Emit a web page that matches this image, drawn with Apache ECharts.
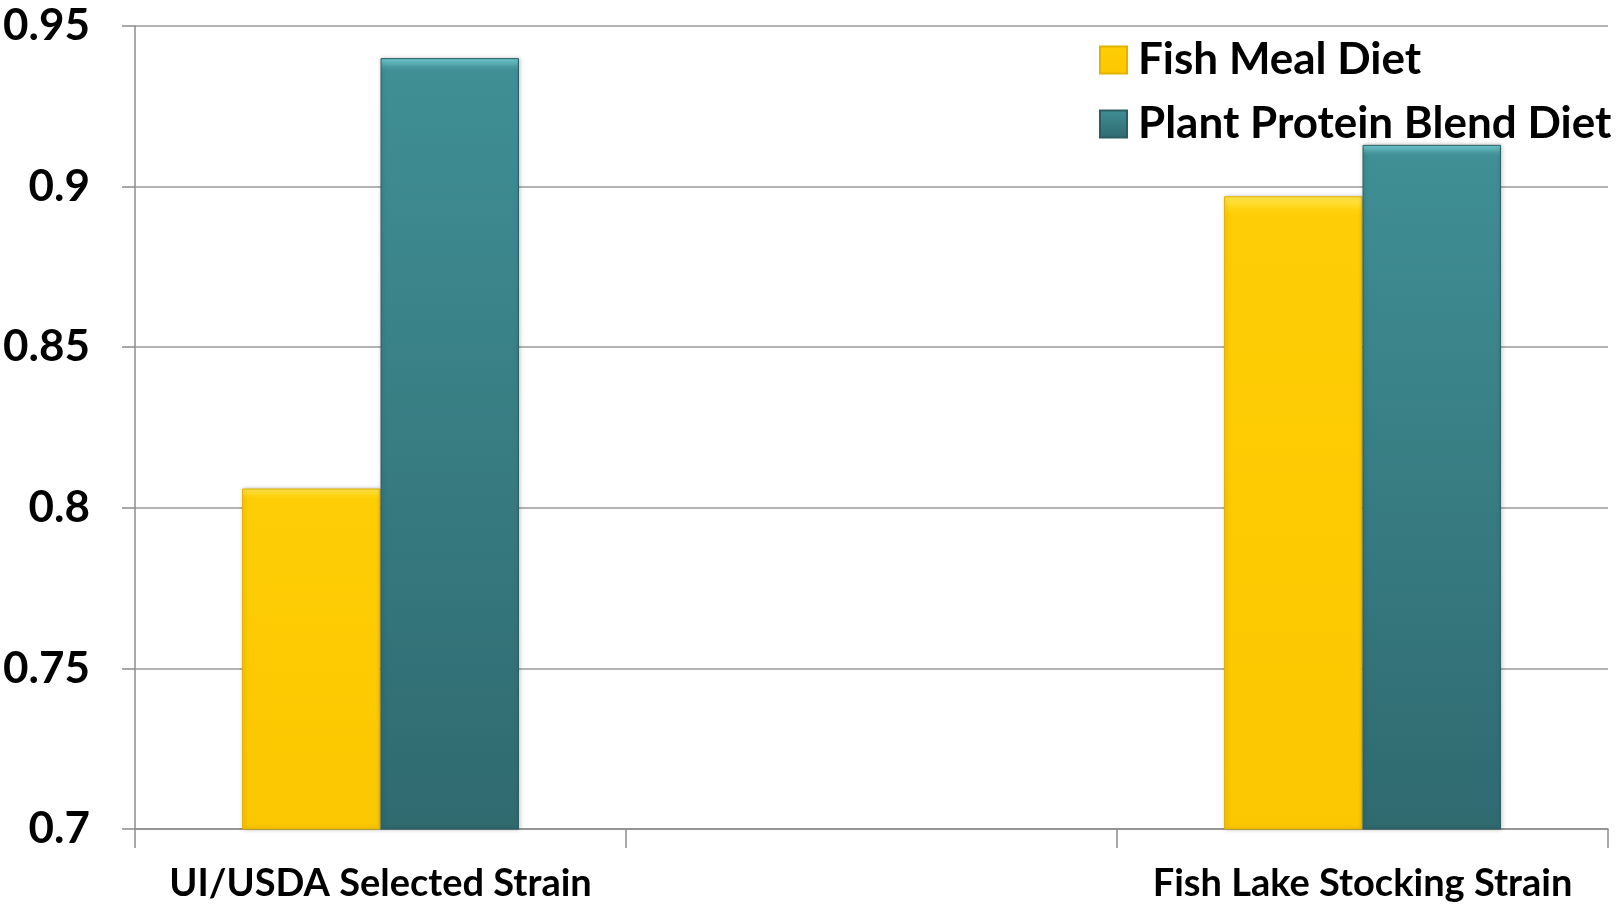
<!DOCTYPE html>
<html>
<head>
<meta charset="utf-8">
<script src="https://cdn.jsdelivr.net/npm/echarts@6/dist/echarts.min.js"></script>
<style>
  html, body { margin: 0; padding: 0; background: #ffffff; }
  #chart { width: 1622px; height: 909px; }
</style>
</head>
<body>
<div id="chart"></div>
<script>
// Strain categories (middle slot left empty, as in the layout of the original slide)
const categories = ['UI/USDA Selected Strain', '', 'Fish Lake Stocking Strain'];
const seriesNames = ['Fish Meal Diet', 'Plant Protein Blend Diet'];
const fishMealValues = [0.806, null, 0.897];
const plantProteinValues = [0.940, null, 0.913];
const yTicks = { min: 0.7, max: 0.95, interval: 0.05 };

const FONT = 'Lato, "Open Sans", sans-serif';

function vGradient(stops) {
  return { type: 'linear', x: 0, y: 0, x2: 0, y2: 1, colorStops: stops };
}

const yellowFill = vGradient([
  { offset: 0, color: '#ffe84f' },
  { offset: 0.022, color: '#ffd20f' },
  { offset: 0.03, color: '#ffcd05' },
  { offset: 1, color: '#fbc700' }
]);
const tealFill = vGradient([
  { offset: 0, color: '#72ced4' },
  { offset: 0.011, color: '#4a9ba1' },
  { offset: 0.016, color: '#3f8f95' },
  { offset: 1, color: '#2f6a6f' }
]);

const chart = echarts.init(document.getElementById('chart'), null, { renderer: 'canvas' });

chart.setOption({
  backgroundColor: '#ffffff',
  animation: false,
  grid: { left: 134, right: 14, top: 26, bottom: 80, containLabel: false },
  legend: {
    orient: 'vertical',
    left: 1094,
    top: 33,
    itemWidth: 27,
    itemHeight: 27,
    itemGap: 20,
    icon: 'rect',
    textStyle: {
      fontFamily: FONT, fontWeight: 'bold', fontSize: 44, lineHeight: 44,
      color: '#000', padding: [0, 0, 0, 6]
    },
    data: seriesNames
  },
  xAxis: {
    type: 'category',
    data: categories,
    boundaryGap: true,
    axisLine: { show: true, lineStyle: { color: '#8c8c8c', width: 1.5 } },
    axisTick: { show: true, interval: 0, length: 19, lineStyle: { color: '#8c8c8c', width: 1.5 } },
    axisLabel: { interval: 0, margin: 36, fontFamily: FONT, fontWeight: 'bold', fontSize: 38, color: '#000' },
    splitLine: { show: false }
  },
  yAxis: {
    type: 'value',
    min: yTicks.min,
    max: yTicks.max,
    interval: yTicks.interval,
    axisLine: { show: true, lineStyle: { color: '#8c8c8c', width: 1.5 } },
    axisTick: { show: true, length: 13, lineStyle: { color: '#8c8c8c', width: 1.5 } },
    axisLabel: { margin: 45, fontFamily: FONT, fontWeight: 'bold', fontSize: 44, color: '#000' },
    splitLine: { show: true, lineStyle: { color: '#9a9a9a', width: 1.5 } }
  },
  series: [
    {
      name: seriesNames[0],
      type: 'bar',
      data: fishMealValues,
      barGap: '0%',
      barCategoryGap: '43.6%',
      itemStyle: {
        color: yellowFill,
        borderColor: '#e2b200',
        borderWidth: 1,
        shadowColor: 'rgba(0,0,0,0.25)',
        shadowBlur: 4,
        shadowOffsetX: 1
      }
    },
    {
      name: seriesNames[1],
      type: 'bar',
      data: plantProteinValues,
      barGap: '0%',
      barCategoryGap: '43.6%',
      itemStyle: {
        color: tealFill,
        borderColor: '#2a5e62',
        borderWidth: 1,
        shadowColor: 'rgba(0,0,0,0.25)',
        shadowBlur: 4,
        shadowOffsetX: 1
      }
    }
  ]
});
</script>
</body>
</html>
